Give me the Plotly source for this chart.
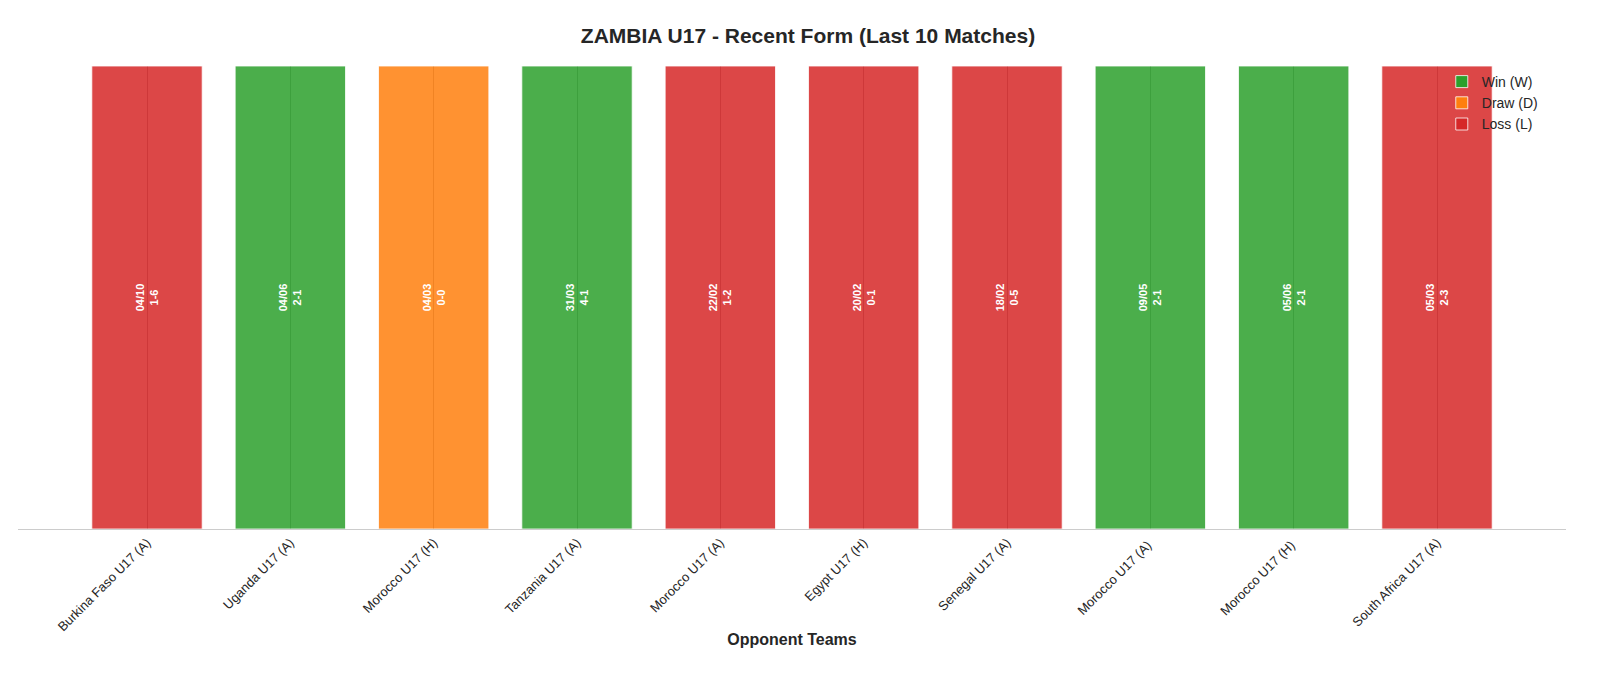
import plotly.graph_objects as go

opponents = ["Burkina Faso U17 (A)", "Uganda U17 (A)", "Morocco U17 (H)", "Tanzania U17 (A)",
             "Morocco U17 (A)", "Egypt U17 (H)", "Senegal U17 (A)", "Morocco U17 (A) ",
             "Morocco U17 (H) ", "South Africa U17 (A)"]
dates = ["04/10", "04/06", "04/03", "31/03", "22/02", "20/02", "18/02", "09/05", "05/06", "05/03"]
scores = ["1-6", "2-1", "0-0", "4-1", "1-2", "0-1", "0-5", "2-1", "2-1", "2-3"]
results = ["L", "W", "D", "W", "L", "L", "L", "W", "W", "L"]
heights = [1] * 10

styles = {"W": ("Win (W)", "#2ca02c"), "D": ("Draw (D)", "#ff7f0e"), "L": ("Loss (L)", "#d62728")}

fig = go.Figure()
for r in ["W", "D", "L"]:
    idx = [i for i, v in enumerate(results) if v == r]
    name, col = styles[r]
    fig.add_trace(go.Bar(
        x=[opponents[i] for i in idx], y=[heights[i] for i in idx],
        text=[f"<b>{dates[i]}<br>{scores[i]}</b>" for i in idx],
        textposition="inside", insidetextanchor="middle", textangle=-90,
        textfont=dict(color="white", size=11, family="Liberation Sans, Arial"),
        marker=dict(color=col, opacity=0.85, line=dict(color="rgba(255,255,255,0.8)", width=1)),
        width=0.77, name=name))

fig.update_layout(
    width=1600, height=681, barmode="overlay", plot_bgcolor="white", paper_bgcolor="white",
    font=dict(family="Liberation Sans, Arial", color="#262626"),
    title=dict(text="<b>ZAMBIA U17 - Recent Form (Last 10 Matches)</b>", x=0.5, y=0.97,
               xanchor="center", font=dict(size=21)),
    margin=dict(l=10, r=42, t=58, b=160),
    legend=dict(x=0.985, y=1.0, xanchor="right", yanchor="top", font=dict(size=14),
                bgcolor="rgba(0,0,0,0)"),
    xaxis=dict(categoryorder="array", categoryarray=opponents, tickangle=-45,
               range=[-0.9, 9.9], automargin=False,
               tickfont=dict(size=13), showgrid=True, gridcolor="#a0a0a0",
               showline=True, linecolor="#cccccc",
               title=dict(text="<b>Opponent Teams</b>", font=dict(size=16), standoff=0)),
    yaxis=dict(visible=False, range=[0, 1.0], showgrid=False),
)
fig.write_html("out.html")
